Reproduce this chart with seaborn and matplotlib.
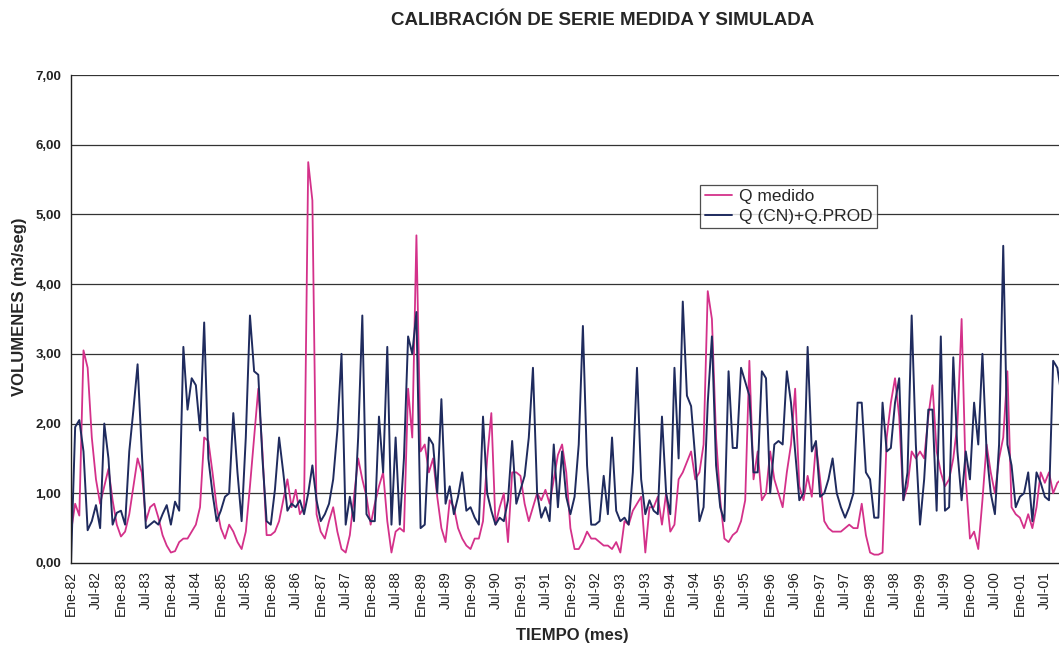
import numpy as np
import pandas as pd
import matplotlib
matplotlib.use("Agg")
import matplotlib.pyplot as plt
import seaborn as sns

# Monthly series, Ene-82 onwards
q_simulado = [
    0.0, 1.95, 2.05, 1.6, 0.47, 0.6, 0.83, 0.5, 2.0, 1.5, 0.55, 0.72,      # 1982
    0.75, 0.55, 1.6, 2.2, 2.85, 1.6, 0.5, 0.55, 0.6, 0.55, 0.7, 0.83,      # 1983
    0.55, 0.88, 0.75, 3.1, 2.2, 2.65, 2.55, 1.9, 3.45, 1.5, 1.0, 0.6,      # 1984
    0.75, 0.95, 1.0, 2.15, 1.3, 0.6, 1.8, 3.55, 2.75, 2.7, 1.5, 0.6,       # 1985
    0.55, 1.05, 1.8, 1.3, 0.75, 0.85, 0.8, 0.9, 0.7, 1.0, 1.4, 0.9,        # 1986
    0.6, 0.7, 0.85, 1.2, 1.9, 3.0, 0.55, 0.95, 0.6, 1.8, 3.55, 0.7,        # 1987
    0.6, 0.6, 2.1, 1.3, 3.1, 0.55, 1.8, 0.55, 1.5, 3.25, 3.0, 3.6,         # 1988
    0.5, 0.55, 1.8, 1.7, 1.0, 2.35, 0.85, 1.1, 0.7, 0.95, 1.3, 0.75,       # 1989
    0.8, 0.65, 0.55, 2.1, 1.0, 0.75, 0.55, 0.65, 0.6, 0.9, 1.75, 0.85,     # 1990
    1.05, 1.25, 1.8, 2.8, 1.0, 0.65, 0.8, 0.6, 1.7, 0.8, 1.6, 0.95,        # 1991
    0.7, 0.95, 1.7, 3.4, 1.4, 0.55, 0.55, 0.6, 1.25, 0.7, 1.8, 0.75,       # 1992
    0.6, 0.65, 0.55, 1.3, 2.8, 1.2, 0.7, 0.9, 0.75, 0.7, 2.1, 1.0,         # 1993
    0.7, 2.8, 1.5, 3.75, 2.4, 2.25, 1.5, 0.6, 0.8, 2.3, 3.25, 1.4,         # 1994
    0.8, 0.6, 2.75, 1.65, 1.65, 2.8, 2.6, 2.4, 1.3, 1.3, 2.75, 2.65,       # 1995
    1.0, 1.7, 1.75, 1.7, 2.75, 2.3, 1.6, 0.9, 1.0, 3.1, 1.6, 1.75,         # 1996
    0.95, 1.0, 1.2, 1.5, 1.0, 0.8, 0.65, 0.8, 1.0, 2.3, 2.3, 1.3,          # 1997
    1.2, 0.65, 0.65, 2.3, 1.6, 1.65, 2.3, 2.65, 0.9, 1.3, 3.55, 1.7,       # 1998
    0.55, 1.2, 2.2, 2.2, 0.75, 3.25, 0.75, 0.8, 2.95, 1.6, 0.9, 1.6,       # 1999
    1.2, 2.3, 1.7, 3.0, 1.6, 1.0, 0.7, 1.7, 4.55, 1.7, 1.4, 0.8,           # 2000
    0.95, 1.0, 1.3, 0.6, 1.3, 1.15, 0.95, 0.9, 2.9, 2.8, 2.4, 1.5,         # 2001
]

q_medido = [
    0.45, 0.85, 0.68, 3.05, 2.8, 1.8, 1.2, 0.85, 1.1, 1.35, 0.9, 0.55,     # 1982
    0.38, 0.45, 0.7, 1.1, 1.5, 1.3, 0.6, 0.8, 0.85, 0.65, 0.4, 0.25,       # 1983
    0.15, 0.17, 0.3, 0.35, 0.35, 0.45, 0.55, 0.8, 1.8, 1.75, 1.3, 0.8,     # 1984
    0.5, 0.35, 0.55, 0.45, 0.3, 0.2, 0.45, 1.1, 1.8, 2.5, 1.6, 0.4,        # 1985
    0.4, 0.45, 0.6, 0.9, 1.2, 0.8, 1.05, 0.7, 0.8, 5.75, 5.2, 0.7,         # 1986
    0.45, 0.35, 0.6, 0.8, 0.45, 0.2, 0.15, 0.4, 0.95, 1.5, 1.2, 0.95,      # 1987
    0.55, 0.85, 1.1, 1.3, 0.6, 0.15, 0.45, 0.5, 0.45, 2.5, 1.8, 4.7,       # 1988
    1.6, 1.7, 1.3, 1.5, 0.95, 0.5, 0.3, 0.9, 0.8, 0.5, 0.35, 0.25,         # 1989
    0.2, 0.35, 0.35, 0.6, 1.5, 2.15, 0.55, 0.8, 1.0, 0.3, 1.3, 1.3,        # 1990
    1.25, 0.85, 0.6, 0.8, 1.0, 0.9, 1.05, 0.85, 1.2, 1.55, 1.7, 1.3,       # 1991
    0.5, 0.2, 0.2, 0.3, 0.45, 0.35, 0.35, 0.3, 0.25, 0.25, 0.2, 0.3,       # 1992
    0.15, 0.6, 0.55, 0.75, 0.85, 0.95, 0.15, 0.8, 0.8, 0.95, 0.55, 1.0,    # 1993
    0.45, 0.55, 1.2, 1.3, 1.45, 1.6, 1.2, 1.3, 1.7, 3.9, 3.5, 1.8,         # 1994
    0.9, 0.35, 0.3, 0.4, 0.45, 0.6, 0.9, 2.9, 1.2, 1.6, 0.9, 1.0,          # 1995
    1.6, 1.2, 1.0, 0.8, 1.3, 1.7, 2.5, 1.1, 0.9, 1.25, 0.95, 1.7,          # 1996
    1.2, 0.6, 0.5, 0.45, 0.45, 0.45, 0.5, 0.55, 0.5, 0.5, 0.85, 0.4,       # 1997
    0.15, 0.12, 0.12, 0.15, 1.8, 2.3, 2.65, 2.1, 0.9, 1.1, 1.6, 1.5,       # 1998
    1.6, 1.5, 2.1, 2.55, 1.6, 1.3, 1.1, 1.2, 1.5, 2.0, 3.5, 1.2,           # 1999
    0.35, 0.45, 0.2, 0.9, 1.7, 1.3, 1.0, 1.5, 1.8, 2.75, 0.8, 0.7,         # 2000
    0.65, 0.5, 0.7, 0.5, 0.8, 1.3, 1.15, 1.3, 1.0, 1.15, 1.2, 1.0,         # 2001
]

years = list(range(1982, 2002))
tick_labels = [f"{m}-{y % 100:02d}" for y in years for m in ("Ene", "Jul")]
y_ticks = [0, 1, 2, 3, 4, 5, 6, 7]
y_labels = ["0,00", "1,00", "2,00", "3,00", "4,00", "5,00", "6,00", "7,00"]

df = pd.DataFrame({
    "mes": np.arange(len(q_medido)),
    "Q medido": q_medido,
    "Q (CN)+Q.PROD": q_simulado,
})

sns.set_style("white")
plt.rcParams["font.family"] = ["Liberation Sans", "DejaVu Sans"]

fig = plt.figure(figsize=(10.59, 6.46), dpi=100)
ax = fig.add_axes([71 / 1059, 0.1285, 1 - 71 / 1059, 0.7554])

sns.lineplot(data=df, x="mes", y="Q medido", color="#d4318a", linewidth=1.3,
             label="Q medido", ax=ax)
sns.lineplot(data=df, x="mes", y="Q (CN)+Q.PROD", color="#1f2b5e", linewidth=1.4,
             label="Q (CN)+Q.PROD", ax=ax)

ax.set_xlim(0, 237.4)
ax.set_ylim(0, 7)
ax.set_yticks(y_ticks)
ax.set_yticklabels(y_labels, fontsize=9.5, fontweight="bold", color="#222222")
ax.set_xticks(np.arange(0, len(tick_labels) * 6, 6))
ax.set_xticklabels(tick_labels, rotation=90, fontsize=10, color="#222222")
ax.tick_params(axis="x", direction="inout", length=6, width=0.9, pad=3)
ax.tick_params(axis="y", direction="out", length=4, width=0.9, pad=3)
ax.set_xlabel("")
ax.set_ylabel("")

for yv in y_ticks[1:]:
    ax.axhline(yv, color="#333333", linewidth=0.9, zorder=0)

for side in ["top", "right"]:
    ax.spines[side].set_visible(False)
for side in ["left", "bottom"]:
    ax.spines[side].set_color("#222222")
    ax.spines[side].set_linewidth(1.0)

leg = ax.legend(loc="upper left", bbox_to_anchor=(0.637, 0.775), fontsize=12.5,
                frameon=True, fancybox=False, handlelength=1.6, borderpad=0.25,
                labelspacing=0.25, handletextpad=0.35, borderaxespad=0)
leg.get_frame().set_edgecolor("#222222")
leg.get_frame().set_linewidth(0.9)

fig.text(0.569, 0.968, "CALIBRACIÓN DE SERIE MEDIDA Y SIMULADA", ha="center",
         va="center", fontsize=13.5, fontweight="bold")
fig.text(0.018, 0.525, "VOLUMENES (m3/seg)", ha="center", va="center",
         rotation=90, fontsize=12, fontweight="bold")
fig.text(0.540, 0.017, "TIEMPO (mes)", ha="center", va="center",
         fontsize=12, fontweight="bold")

fig.savefig("out.png", dpi=100)
